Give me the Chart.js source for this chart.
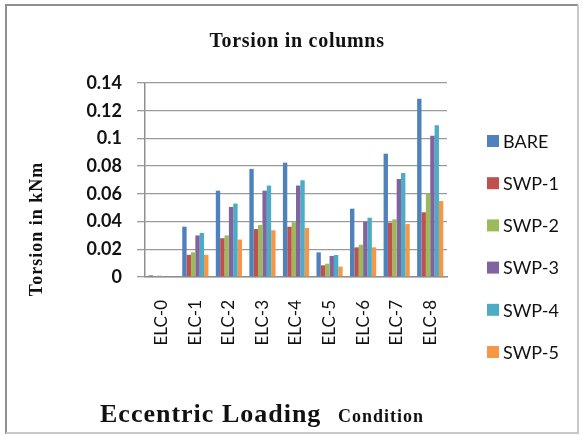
<!DOCTYPE html>
<html>
<head>
<meta charset="utf-8">
<script src="https://cdn.jsdelivr.net/npm/chart.js@4.4.1/dist/chart.umd.min.js"></script>
<style>
  html, body { margin: 0; padding: 0; background: #fff; }
  #wrap { position: relative; width: 583px; height: 435px; }
</style>
</head>
<body>
<div id="wrap"><canvas id="chart" width="583" height="435"></canvas></div>
<script>
const categories = ['ELC-0', 'ELC-1', 'ELC-2', 'ELC-3', 'ELC-4', 'ELC-5', 'ELC-6', 'ELC-7', 'ELC-8'];
const bare = [0.0012, 0.0363, 0.0623, 0.078, 0.0825, 0.0178, 0.0493, 0.089, 0.1287];
const swp1 = [0, 0.016, 0.028, 0.0346, 0.0363, 0.0084, 0.0214, 0.0392, 0.0467];
const swp2 = [0.001, 0.0178, 0.030, 0.0375, 0.0395, 0.0096, 0.0233, 0.0416, 0.060];
const swp3 = [0, 0.030, 0.0505, 0.0623, 0.066, 0.0152, 0.040, 0.0707, 0.102];
const swp4 = [0, 0.0318, 0.053, 0.066, 0.0698, 0.0159, 0.0428, 0.075, 0.1095];
const swp5 = [0, 0.016, 0.027, 0.0337, 0.0354, 0.0075, 0.0214, 0.0382, 0.0548];
const seriesNames = ['BARE', 'SWP-1', 'SWP-2', 'SWP-3', 'SWP-4', 'SWP-5'];
const seriesColors = ['#4F81BD', '#C0504D', '#9BBB59', '#8064A2', '#4BACC6', '#F79646'];

const chartTitle = 'Torsion in columns';
const yTitle = 'Torsion in kNm';

// frame, titles and legend drawn straight onto the canvas
const decor = {
    id: 'decor',
    beforeDraw(chart) {
        const c = chart.ctx;
        c.save();
        c.fillStyle = '#fff';
        c.fillRect(0, 0, chart.width, chart.height);
        c.lineWidth = 2;
        c.strokeStyle = '#8f8f8f';
        c.beginPath();
        c.moveTo(6, 434); c.lineTo(6, 5); c.lineTo(578, 5);
        c.stroke();
        c.strokeStyle = '#c8c8c8';
        c.beginPath();
        c.moveTo(578, 5); c.lineTo(578, 433); c.lineTo(6, 433);
        c.stroke();
        c.restore();
    },
    afterDraw(chart) {
        const c = chart.ctx;
        c.save();
        c.fillStyle = '#111';
        c.textBaseline = 'alphabetic';

        c.font = 'bold 20px "Liberation Serif"';
        c.letterSpacing = '0.7px';
        c.textAlign = 'center';
        c.fillText(chartTitle, 297, 47);

        c.save();
        c.translate(42, 229);
        c.rotate(-Math.PI / 2);
        c.font = 'bold 18px "Liberation Serif"';
        c.letterSpacing = '1px';
        c.fillText(yTitle, 0, 0);
        c.restore();

        c.textAlign = 'left';
        c.font = 'bold 26px "Liberation Serif"';
        c.letterSpacing = '1px';
        c.fillText('Eccentric Loading', 100, 422);
        c.font = 'bold 18px "Liberation Serif"';
        c.letterSpacing = '1px';
        c.fillText('Condition', 338, 422);

        c.letterSpacing = '0px';
        c.font = '18px Lato';
        c.textBaseline = 'middle';
        chart.data.datasets.forEach((ds, i) => {
            const cy = 141 + i * 42.2;
            c.fillStyle = ds.backgroundColor;
            c.fillRect(487, cy - 6, 12, 12);
            c.fillStyle = '#111';
            c.fillText(ds.label, 503, cy + 1);
        });
        c.restore();
    }
};

const datasets = [bare, swp1, swp2, swp3, swp4, swp5].map((d, i) => ({
    label: seriesNames[i],
    data: d,
    backgroundColor: seriesColors[i],
    borderWidth: 0,
    categoryPercentage: 0.78,
    barPercentage: 1.0
}));

new Chart(document.getElementById('chart').getContext('2d'), {
    type: 'bar',
    data: { labels: categories, datasets },
    plugins: [decor],
    options: {
        responsive: false,
        animation: false,
        layout: { padding: { left: 0, top: 83, right: 136, bottom: 0 } },
        plugins: {
            legend: { display: false },
            title: { display: false },
            tooltip: { enabled: false }
        },
        scales: {
            x: {
                afterFit: s => { s.height = 158; },
                grid: { display: false, drawTicks: false },
                border: { color: '#8f8f8f', width: 1.5 },
                ticks: {
                    color: '#111',
                    font: { family: 'Lato', size: 17 },
                    minRotation: 90,
                    maxRotation: 90,
                    padding: 23
                }
            },
            y: {
                min: 0,
                max: 0.14,
                afterFit: s => { s.width = 145; },
                grid: { color: '#9a9a9a', lineWidth: 1.3, tickLength: 8 },
                border: { color: '#8f8f8f', width: 1.5 },
                ticks: {
                    stepSize: 0.02,
                    color: '#111',
                    padding: 15,
                    font: { family: 'Lato', size: 18, weight: 'bold' },
                    callback: v => String(parseFloat(v.toFixed(2)))
                }
            }
        }
    }
});
</script>
</body>
</html>
